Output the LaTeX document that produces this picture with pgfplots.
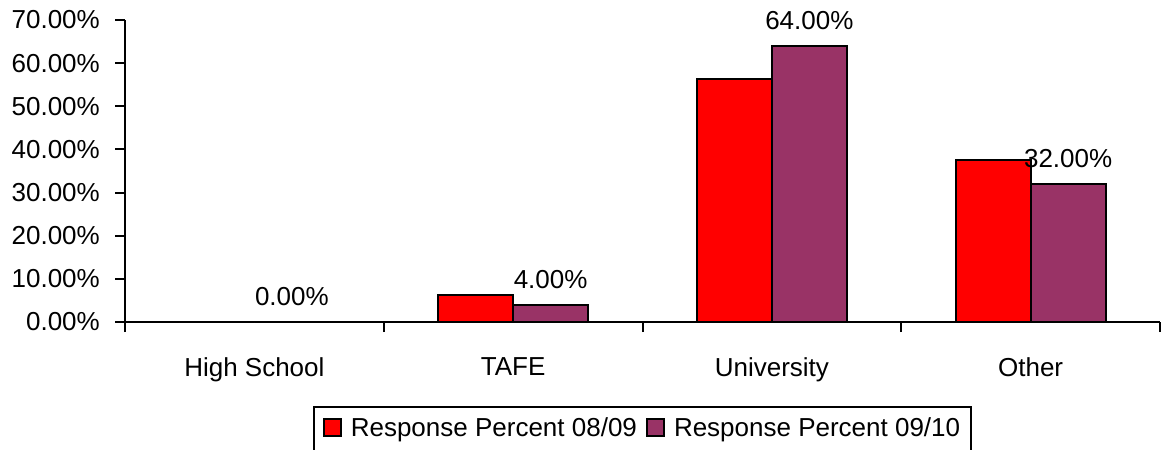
\documentclass[border=0pt]{standalone}
\usepackage{pgfplots}
\pgfplotsset{compat=1.18}
\usepackage{fontspec}
\setmainfont{Liberation Sans}
\usetikzlibrary{calc}
\definecolor{barred}{HTML}{FF0000}
\definecolor{barpurple}{HTML}{993366}
\begin{document}
\begin{tikzpicture}[font=\fontsize{26}{30}\selectfont]
\begin{axis}[
  name=ax,
  scale only axis,
  width=1035pt, height=302pt,
  ybar=0pt, bar width=75pt,
  xmin=-0.5, xmax=3.5,
  ymin=0, ymax=70,
  axis lines*=left,
  axis line style={black, line width=2.5pt},
  tick align=outside,
  major tick length=10pt, minor tick length=10pt,
  tick style={black, line width=2pt},
  xtick={0,1,2,3},
  xticklabels={High School, TAFE, University, Other},
  minor xtick={-0.5,0.5,1.5,2.5,3.5},
  every major x tick/.style={draw=none},
  ytick={0,10,...,70},
  yticklabel={\pgfmathprintnumber[fixed,fixed zerofill,precision=2]{\tick}\%},
  /pgf/number format/assume math mode=true,
  yticklabel style={inner sep=0pt, xshift=-15pt},
  xticklabel style={inner sep=0pt, yshift=-25pt},
  clip=false,
  legend columns=2,
  legend style={at={(0.5,-0.2815)}, anchor=north, draw=none, fill=none,
    font=\fontsize{26}{30}\selectfont, inner xsep=9pt, inner ysep=8pt,
    /tikz/every even column/.append style={column sep=7pt}},
  every axis legend/.append style={name=leg},
  legend image code/.code={\draw[#1, line width=2pt] (0pt,-8.5pt) rectangle (17pt,8.5pt); \path (24pt,0pt);},
]
\addplot[fill=barred, draw=black, line width=2pt] coordinates {(0,0) (1,6.25) (2,56.25) (3,37.5)};
\addlegendentry{Response Percent 08/09}
\addplot[fill=barpurple, draw=black, line width=2pt,
  nodes near coords={\pgfmathprintnumber[fixed,fixed zerofill,precision=2]{\pgfplotspointmeta}\%},
  every node near coord/.append style={font=\fontsize{26}{30}\selectfont, yshift=12pt, black}]
  coordinates {(0,0) (1,4) (2,64) (3,32)};
\addlegendentry{Response Percent 09/10}
\end{axis}
\draw[black, line width=2pt] ($(leg.south west)+(0,-30pt)$) -- (leg.north west) -- (leg.north east) -- ($(leg.south east)+(0,-30pt)$);
\pgfresetboundingbox
\path[use as bounding box] ($(ax.south west)+(-125pt,-127pt)$) rectangle ($(ax.north east)+(2pt,20pt)$);
\end{tikzpicture}
\end{document}
